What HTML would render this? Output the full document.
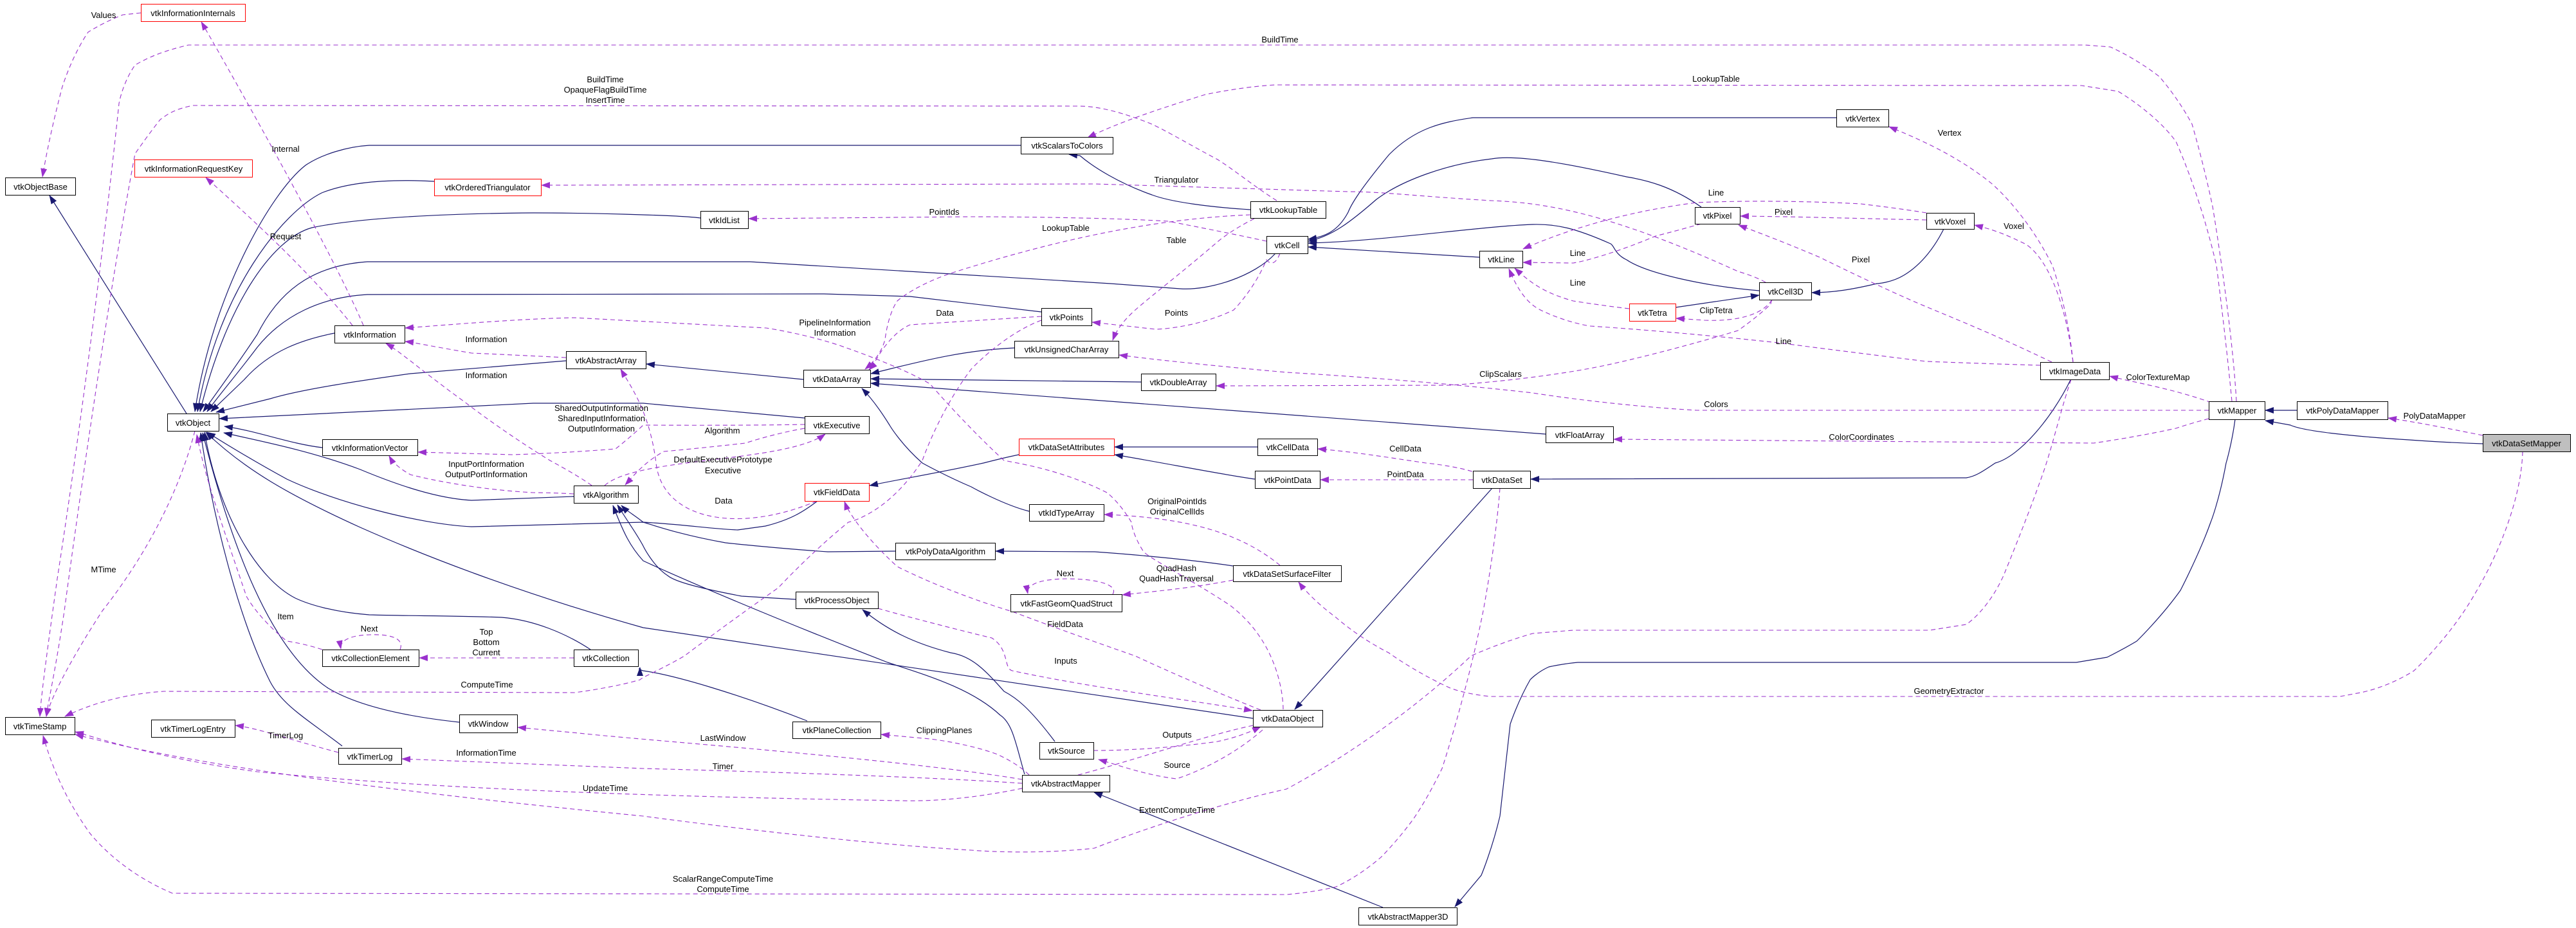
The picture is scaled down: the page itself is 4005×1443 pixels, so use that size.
<!DOCTYPE html>
<html><head><meta charset="utf-8"><style>
html,body{margin:0;padding:0;background:#fff;}
svg{display:block;}
text{font-family:"Liberation Sans",sans-serif;font-size:13px;fill:#000;}
.s{fill:none;stroke:#191970;stroke-width:1.2;}
.d{fill:none;stroke:#9a32cd;stroke-width:1.1;stroke-dasharray:7,5;}
.n{fill:#fff;stroke:#000;stroke-width:1;}
.r{fill:#fff;stroke:#ff0000;stroke-width:1;}
.g{fill:#bfbfbf;stroke:#000;stroke-width:1;}
.l{text-anchor:middle;}
</style></head><body>
<svg width="4005" height="1443" viewBox="0 0 4005 1443" xmlns="http://www.w3.org/2000/svg">
<defs>
<marker id="a" markerWidth="14" markerHeight="10" refX="13" refY="5" orient="auto" markerUnits="userSpaceOnUse"><path d="M0,0 L14,5 L0,10 z" fill="#191970"/></marker>
<marker id="p" markerWidth="14" markerHeight="10" refX="13" refY="5" orient="auto" markerUnits="userSpaceOnUse"><path d="M0,0 L14,5 L0,10 z" fill="#9a32cd"/></marker>
</defs>

<!-- solid inheritance edges -->
<g marker-end="url(#a)">
<path class="s" d="M290,643 L77,304"/>
<path class="s" d="M1587,226 L574,226 C540,228 500,240 475,257 C420,300 330,460 303,640"/>
<path class="s" d="M675,282 C600,278 540,284 500,300 C440,330 340,450 307,640"/>
<path class="s" d="M1089,339 C1050,334 900,331 829,331 C700,332 560,338 485,354 C420,372 350,480 311,640"/>
<path class="s" d="M1983,394 C1950,430 1880,452 1835,449 L1727,441 L1166,407 L571,407 C500,412 440,440 400,520 C360,580 330,620 316,640"/>
<path class="s" d="M1619,485 L1415,461 L1281,457 L571,458 C500,462 440,490 400,540 C370,580 340,615 322,640"/>
<path class="s" d="M520,518 C470,528 420,545 380,590 L328,640"/>
<path class="s" d="M880,561 L638,581 C560,592 470,605 420,620 L336,641"/>
<path class="s" d="M1251,650 L1000,627 L829,627 L341,651"/>
<path class="s" d="M501,696 C450,690 400,670 349,663"/>
<path class="s" d="M892,772 L733,778 C680,775 620,755 560,730 C480,700 400,685 348,673"/>
<path class="s" d="M1271,779 C1250,795 1230,808 1190,818 L1147,824 C1100,822 1070,816 1000,812 L733,819 C650,815 520,780 446,745 C400,720 350,690 322,672"/>
<path class="s" d="M1948,1117 L1000,976 C800,920 650,860 560,820 C450,770 380,730 320,672"/>
<path class="s" d="M918,1010 C880,985 830,964 780,960 C700,957 640,958 574,956 C520,952 480,940 459,930 C400,900 340,800 318,672"/>
<path class="s" d="M714,1123 C640,1115 560,1100 510,1070 C420,1010 360,850 315,673"/>
<path class="s" d="M532,1160 C480,1120 440,1098 420,1060 C370,960 330,800 312,673"/>
<path class="s" d="M1255,1121 C1150,1080 1050,1050 1000,1043 C990,1040 995,1040 995,1038"/>
<path class="s" d="M1640,1153 C1600,1100 1580,1085 1561,1075 C1530,1040 1510,1020 1478,1015 C1420,1000 1380,980 1341,948"/>
<path class="s" d="M2150,1411 L1701,1232"/>
<path class="s" d="M2320,759 L2013,1103"/>
<path class="s" d="M3219,591 C3190,650 3140,710 3102,720 C3080,735 3070,741 3057,743 L2380,745"/>
<path class="s" d="M3475,652 C3470,690 3461,720 3461,720 C3450,780 3437,812 3437,812 C3420,860 3390,918 3390,918 C3360,960 3322,997 3322,997 C3300,1010 3276,1022 3276,1022 L3228,1030 L2453,1030 C2430,1032 2408,1037 2408,1037 C2390,1045 2379,1057 2379,1057 C2360,1090 2348,1126 2348,1126 L2332,1269 C2320,1320 2303,1361 2303,1361 L2262,1410"/>
<path class="s" d="M3571,638 L3522,638"/>
<path class="s" d="M3860,690 C3800,688 3746,684 3746,684 C3650,678 3580,670 3561,661 L3522,654"/>
<path class="s" d="M1944,326 C1880,322 1820,314 1791,303 C1740,285 1700,260 1679,242 L1662,240"/>
<path class="s" d="M2855,183 L2290,183 C2240,190 2200,200 2160,240 C2110,300 2100,320 2096,330 C2080,360 2060,368 2034,372"/>
<path class="s" d="M2645,322 C2600,290 2560,280 2529,275 C2440,255 2360,240 2319,247 C2250,255 2180,280 2140,310 C2100,345 2070,368 2034,375"/>
<path class="s" d="M2735,452 C2650,445 2560,425 2529,404 C2510,395 2510,382 2504,379 C2450,355 2420,348 2383,349 C2300,352 2150,375 2034,378"/>
<path class="s" d="M2300,400 L2034,384"/>
<path class="s" d="M2605,478 L2735,459"/>
<path class="s" d="M3022,356 C3010,380 2990,410 2960,428 C2940,440 2918,441 2918,441 C2880,450 2850,455 2817,455"/>
<path class="s" d="M1249,590 L1005,566"/>
<path class="s" d="M1577,541 C1490,545 1420,565 1354,581"/>
<path class="s" d="M1774,594 L1354,589"/>
<path class="s" d="M2403,675 L1354,596"/>
<path class="s" d="M1600,795 C1560,785 1510,757 1510,757 C1470,740 1434,720 1434,720 C1400,690 1383,661 1383,661 C1370,640 1354,618 1340,604"/>
<path class="s" d="M1584,707 C1560,712 1529,720 1529,720 C1460,735 1400,745 1352,755"/>
<path class="s" d="M1955,695 L1733,695"/>
<path class="s" d="M1951,745 C1900,738 1800,718 1733,707"/>
<path class="s" d="M1392,857 L1287,858 C1200,852 1128,844 1128,844 C1060,832 1020,818 1000,812 C985,800 975,795 966,786"/>
<path class="s" d="M1237,932 L1153,927 C1090,915 1050,905 1038,895 C1015,880 1000,849 1000,849 C990,830 975,810 960,785"/>
<path class="s" d="M1593,1204 C1580,1160 1575,1125 1555,1112 C1510,1070 1440,1050 1380,1030 C1200,960 1060,900 1000,872 C980,850 970,830 953,786"/>
<path class="s" d="M1917,880 C1850,870 1760,862 1702,858 L1548,857"/>
</g>

<!-- dashed usage edges -->
<g marker-end="url(#p)">
<path class="d" d="M219,20 C200,22 191,23 191,23 C160,35 137,50 137,50 C110,90 96,138 96,138 C80,200 72,240 66,275"/>
<path class="d" d="M565,506 C520,400 380,150 313,34"/>
<path class="d" d="M548,506 C480,420 380,330 320,276"/>
<path class="d" d="M3477,624 C3470,500 3440,321 3440,321 C3425,250 3408,193 3408,193 C3385,150 3357,119 3357,119 C3320,90 3281,73 3281,73 L3242,70 L293,70 C250,80 230,90 210,101 C190,130 185,161 185,161 C160,400 120,700 89,900 C75,1000 64,1080 62,1114"/>
<path class="d" d="M1985,312 C1950,290 1920,265 1893,248 C1840,220 1800,195 1778,188 C1730,170 1700,165 1676,165 L300,164 C270,170 260,178 249,186 C230,210 210,239 210,239 C170,450 120,800 100,950 C85,1050 75,1090 72,1114"/>
<path class="d" d="M3470,624 C3460,520 3446,413 3446,413 C3420,300 3383,220 3383,220 C3350,175 3293,142 3293,142 L3236,133 L1982,132 C1930,135 1874,147 1874,147 C1800,170 1740,190 1691,214"/>
<path class="d" d="M2745,439 C2730,430 2702,422 2702,422 C2500,330 2400,315 2319,312 C2200,305 2150,298 2096,298 L1702,286 L842,288"/>
<path class="d" d="M1969,375 C1900,360 1816,344 1816,344 C1700,337 1510,337 1510,337 L1164,340"/>
<path class="d" d="M1944,334 C1800,340 1650,370 1478,425 C1420,445 1395,468 1395,468 C1380,490 1376,528 1376,528 C1370,550 1356,565 1345,574"/>
<path class="d" d="M1950,340 C1920,355 1900,370 1893,376 C1830,430 1790,460 1765,482 C1745,500 1735,515 1730,529"/>
<path class="d" d="M1990,394 C1980,420 1969,404 1969,404 C1950,450 1918,482 1918,482 C1860,510 1800,512 1797,512 L1698,501"/>
<path class="d" d="M1619,492 C1600,493 1415,505 1415,505 C1380,520 1357,569 1357,569 L1351,575"/>
<path class="d" d="M1995,1103 C1995,1087 1990,1000 1912,941 C1850,900 1790,870 1778,858 C1760,830 1759,812 1759,812 C1740,780 1721,766 1721,766 C1650,730 1580,720 1561,716 C1500,660 1446,597 1446,597 C1400,570 1319,542 1319,542 C1260,520 1191,510 1191,510 L893,494 C800,496 700,505 630,510"/>
<path class="d" d="M880,556 C800,552 733,549 733,549 C680,540 640,532 630,531"/>
<path class="d" d="M920,755 C900,740 855,716 855,716 C780,670 721,624 721,624 C660,580 620,545 600,534"/>
<path class="d" d="M1251,660 C1150,662 1000,661 1000,661 C980,680 957,698 957,698 C870,705 797,707 797,707 L650,703"/>
<path class="d" d="M892,768 C860,766 829,766 829,766 C720,760 638,738 638,738 C620,728 610,718 605,709"/>
<path class="d" d="M1251,666 C1200,675 1159,689 1159,689 C1080,698 1032,702 1032,702 C1000,720 985,740 972,754"/>
<path class="d" d="M940,755 C990,710 1220,720 1283,675"/>
<path class="d" d="M1270,779 C1150,830 1030,810 1020,720 C1010,640 980,600 965,574"/>
<path class="d" d="M303,670 C280,760 230,860 159,950 C120,1010 80,1080 72,1114"/>
<path class="d" d="M501,1010 C470,1000 446,997 446,997 C400,960 383,927 383,927 C340,800 319,743 306,676"/>
<path class="d" d="M622,1010 C630,990 600,986 575,987 C540,988 528,998 530,1009"/>
<path class="d" d="M892,1023 L652,1023"/>
<path class="d" d="M1619,498 C1560,520 1510,574 1510,574 C1460,640 1434,716 1434,716 C1380,800 1319,812 1319,812 C1260,860 1210,914 1210,914 C1130,970 1064,1020 1064,1020 C1030,1040 1000,1052 995,1057 C950,1070 893,1077 893,1077 L255,1075 C180,1080 130,1100 101,1114"/>
<path class="d" d="M526,1170 C450,1150 400,1132 366,1128"/>
<path class="d" d="M1589,1218 C1400,1205 1000,1195 1000,1195 L625,1180"/>
<path class="d" d="M1589,1212 C1400,1180 1000,1151 900,1140 L805,1131"/>
<path class="d" d="M1600,1205 C1580,1185 1548,1172 1548,1172 C1500,1155 1446,1149 1446,1149 L1370,1142"/>
<path class="d" d="M1700,1167 C1800,1167 1893,1153 1893,1153 C1930,1145 1950,1135 1960,1130"/>
<path class="d" d="M1963,1135 C1900,1190 1829,1211 1829,1211 C1780,1205 1740,1190 1708,1181"/>
<path class="d" d="M1365,946 C1450,970 1542,992 1542,992 C1570,1010 1560,1040 1574,1043 C1700,1070 1860,1090 1947,1105"/>
<path class="d" d="M1960,1104 C1850,1060 1765,1020 1765,1020 C1650,980 1574,951 1574,951 C1470,920 1395,881 1395,881 C1350,840 1320,800 1313,780"/>
<path class="d" d="M1990,879 C1930,830 1850,805 1717,800"/>
<path class="d" d="M1917,902 C1850,915 1790,920 1745,925"/>
<path class="d" d="M1730,924 C1740,908 1700,900 1660,900 C1620,900 1595,908 1598,923"/>
<path class="d" d="M3922,702 C3920,780 3880,870 3848,923 C3810,990 3753,1043 3753,1043 C3710,1070 3670,1077 3670,1077 L3638,1083 L2319,1083 C2280,1080 2255,1070 2255,1070 C2200,1045 2159,1015 2159,1015 C2110,990 2077,960 2077,960 C2050,940 2030,920 2019,905"/>
<path class="d" d="M3220,590 C3200,650 3190,700 3172,748 C3150,810 3115,895 3115,895 C3090,950 3057,971 3057,971 L3000,980 L2446,980 C2420,982 2383,985 2383,985 C2330,1000 2287,1020 2287,1020 C2150,1150 2000,1227 2000,1227 C1850,1260 1701,1319 1701,1319 C1600,1330 1510,1322 1510,1322 C1300,1310 1000,1269 1000,1269 C600,1230 300,1190 117,1142"/>
<path class="d" d="M1948,1128 C1800,1160 1600,1250 1400,1245 C1100,1240 700,1230 400,1200 C250,1180 160,1150 117,1138"/>
<path class="d" d="M2332,759 C2325,850 2306,950 2306,950 C2280,1080 2242,1195 2242,1195 C2210,1260 2191,1282 2191,1282 C2170,1310 2147,1333 2147,1333 C2110,1365 2077,1379 2077,1379 C2040,1388 2000,1391 2000,1391 L268,1389 C200,1360 160,1320 140,1296 C100,1240 80,1190 67,1144"/>
<path class="d" d="M3434,638 L2638,638 C2500,630 2383,611 2383,611 C2200,590 2000,579 2000,579 C1900,570 1800,560 1740,552"/>
<path class="d" d="M3434,651 C3400,660 3383,666 3383,666 C3320,680 3255,689 3255,689 L2509,683"/>
<path class="d" d="M2755,466 C2753,470 2753,473 2753,473 C2730,495 2702,514 2702,514 C2600,545 2510,565 2510,565 C2400,590 2255,599 2255,599 L1891,600"/>
<path class="d" d="M3438,626 C3380,605 3320,595 3280,585"/>
<path class="d" d="M3860,677 C3800,665 3760,657 3713,650"/>
<path class="d" d="M3223,563 C3215,480 3191,413 3191,413 C3150,330 3096,285 3096,285 C3040,240 2980,215 2937,197"/>
<path class="d" d="M3223,563 C3210,460 3180,400 3150,380 C3110,360 3090,355 3070,350"/>
<path class="d" d="M2995,342 C2900,340 2800,337 2706,336"/>
<path class="d" d="M3190,563 C3100,520 3050,500 2995,477 C2930,450 2829,400 2829,400 C2770,375 2730,360 2703,350"/>
<path class="d" d="M2995,331 C2960,325 2893,317 2893,317 C2800,312 2700,312 2638,315 C2520,330 2430,360 2368,387"/>
<path class="d" d="M2645,348 C2610,358 2574,367 2574,367 C2520,390 2470,405 2446,409 L2368,408"/>
<path class="d" d="M2533,480 C2490,475 2446,468 2446,468 C2400,455 2380,440 2355,417"/>
<path class="d" d="M3172,568 C3100,566 2995,562 2995,562 C2880,548 2765,533 2765,533 C2600,515 2472,507 2472,507 C2430,500 2395,482 2395,482 C2370,470 2355,440 2346,418"/>
<path class="d" d="M2755,466 C2740,490 2700,500 2650,498 L2606,495"/>
<path class="d" d="M2300,737 C2270,725 2217,720 2217,720 C2150,710 2100,702 2049,698"/>
<path class="d" d="M2290,746 L2053,746"/>
</g>

<!-- edge labels -->
<g class="l">
<text x="161" y="28">Values</text>
<text x="1990" y="66">BuildTime</text>
<text x="941" y="128">BuildTime</text>
<text x="941" y="144">OpaqueFlagBuildTime</text>
<text x="941" y="160">InsertTime</text>
<text x="2668" y="127">LookupTable</text>
<text x="3031" y="211">Vertex</text>
<text x="444" y="236">Internal</text>
<text x="1829" y="284">Triangulator</text>
<text x="2668" y="304">Line</text>
<text x="1468" y="334">PointIds</text>
<text x="2773" y="334">Pixel</text>
<text x="3131" y="356">Voxel</text>
<text x="1657" y="359">LookupTable</text>
<text x="444" y="372">Request</text>
<text x="1829" y="378">Table</text>
<text x="2453" y="398">Line</text>
<text x="2893" y="408">Pixel</text>
<text x="2453" y="444">Line</text>
<text x="2668" y="487">ClipTetra</text>
<text x="1469" y="491">Data</text>
<text x="1829" y="491">Points</text>
<text x="1298" y="506">PipelineInformation</text>
<text x="1298" y="522">Information</text>
<text x="756" y="532">Information</text>
<text x="2773" y="535">Line</text>
<text x="2333" y="586">ClipScalars</text>
<text x="756" y="588">Information</text>
<text x="3355" y="591">ColorTextureMap</text>
<text x="2668" y="633">Colors</text>
<text x="935" y="639">SharedOutputInformation</text>
<text x="935" y="655">SharedInputInformation</text>
<text x="935" y="671">OutputInformation</text>
<text x="3785" y="651">PolyDataMapper</text>
<text x="1123" y="674">Algorithm</text>
<text x="2894" y="684">ColorCoordinates</text>
<text x="2185" y="702">CellData</text>
<text x="1124" y="719">DefaultExecutivePrototype</text>
<text x="756" y="726">InputPortInformation</text>
<text x="1124" y="736">Executive</text>
<text x="756" y="742">OutputPortInformation</text>
<text x="2185" y="742">PointData</text>
<text x="1125" y="783">Data</text>
<text x="1830" y="784">OriginalPointIds</text>
<text x="1830" y="800">OriginalCellIds</text>
<text x="1829" y="888">QuadHash</text>
<text x="1829" y="904">QuadHashTraversal</text>
<text x="161" y="890">MTime</text>
<text x="1656" y="896">Next</text>
<text x="444" y="963">Item</text>
<text x="1656" y="975">FieldData</text>
<text x="574" y="982">Next</text>
<text x="756" y="987">Top</text>
<text x="756" y="1003">Bottom</text>
<text x="756" y="1019">Current</text>
<text x="1657" y="1032">Inputs</text>
<text x="757" y="1069">ComputeTime</text>
<text x="3030" y="1079">GeometryExtractor</text>
<text x="1468" y="1140">ClippingPlanes</text>
<text x="444" y="1148">TimerLog</text>
<text x="1830" y="1147">Outputs</text>
<text x="1124" y="1152">LastWindow</text>
<text x="756" y="1175">InformationTime</text>
<text x="1830" y="1194">Source</text>
<text x="1124" y="1196">Timer</text>
<text x="941" y="1230">UpdateTime</text>
<text x="1830" y="1264">ExtentComputeTime</text>
<text x="1124" y="1371">ScalarRangeComputeTime</text>
<text x="1124" y="1387">ComputeTime</text>
</g>

<!-- nodes -->
<g class="l">
<rect class="r" x="219.5" y="6.5" width="162" height="27"/><text x="300" y="25">vtkInformationInternals</text>
<rect class="n" x="8.5" y="276.5" width="109" height="27"/><text x="63" y="295">vtkObjectBase</text>
<rect class="r" x="209.5" y="248.5" width="183" height="27"/><text x="301" y="267">vtkInformationRequestKey</text>
<rect class="r" x="675.5" y="278.5" width="166" height="26"/><text x="758" y="296">vtkOrderedTriangulator</text>
<rect class="n" x="520.5" y="506.5" width="109" height="27"/><text x="575" y="525">vtkInformation</text>
<rect class="n" x="880.5" y="546.5" width="124" height="27"/><text x="942" y="565">vtkAbstractArray</text>
<rect class="n" x="260.5" y="643.5" width="80" height="27"/><text x="300" y="662">vtkObject</text>
<rect class="n" x="501.5" y="683.5" width="148" height="25"/><text x="575" y="701">vtkInformationVector</text>
<rect class="n" x="1587.5" y="213.5" width="143" height="26"/><text x="1659" y="231">vtkScalarsToColors</text>
<rect class="n" x="1089.5" y="328.5" width="74" height="27"/><text x="1126" y="347">vtkIdList</text>
<rect class="n" x="1944.5" y="313.5" width="117" height="26"/><text x="2003" y="331">vtkLookupTable</text>
<rect class="n" x="1969.5" y="367.5" width="64" height="27"/><text x="2001" y="386">vtkCell</text>
<rect class="n" x="1619.5" y="479.5" width="78" height="27"/><text x="1658" y="498">vtkPoints</text>
<rect class="n" x="1577.5" y="530.5" width="162" height="26"/><text x="1658" y="548">vtkUnsignedCharArray</text>
<rect class="n" x="1249.5" y="575.5" width="104" height="27"/><text x="1301" y="594">vtkDataArray</text>
<rect class="n" x="1774.5" y="581.5" width="116" height="26"/><text x="1832" y="599">vtkDoubleArray</text>
<rect class="n" x="1251.5" y="647.5" width="100" height="27"/><text x="1301" y="666">vtkExecutive</text>
<rect class="r" x="1584.5" y="682.5" width="148" height="26"/><text x="1658" y="700">vtkDataSetAttributes</text>
<rect class="n" x="1955.5" y="682.5" width="93" height="26"/><text x="2002" y="700">vtkCellData</text>
<rect class="n" x="2855.5" y="170.5" width="81" height="27"/><text x="2896" y="189">vtkVertex</text>
<rect class="n" x="2635.5" y="322.5" width="70" height="26"/><text x="2670" y="340">vtkPixel</text>
<rect class="n" x="2300.5" y="390.5" width="67" height="26"/><text x="2334" y="408">vtkLine</text>
<rect class="n" x="2735.5" y="439.5" width="81" height="27"/><text x="2776" y="458">vtkCell3D</text>
<rect class="r" x="2533.5" y="472.5" width="72" height="27"/><text x="2569" y="491">vtkTetra</text>
<rect class="n" x="2403.5" y="663.5" width="105" height="25"/><text x="2456" y="681">vtkFloatArray</text>
<rect class="n" x="2995.5" y="331.5" width="74" height="25"/><text x="3032" y="349">vtkVoxel</text>
<rect class="n" x="3172.5" y="563.5" width="107" height="27"/><text x="3226" y="582">vtkImageData</text>
<rect class="n" x="3434.5" y="624.5" width="87" height="28"/><text x="3478" y="643">vtkMapper</text>
<rect class="n" x="3571.5" y="624.5" width="141" height="28"/><text x="3642" y="643">vtkPolyDataMapper</text>
<rect class="g" x="3860.5" y="675.5" width="136" height="27"/><text x="3928" y="694">vtkDataSetMapper</text>
<rect class="n" x="892.5" y="755.5" width="100" height="27"/><text x="942" y="774">vtkAlgorithm</text>
<rect class="n" x="501.5" y="1010.5" width="150" height="26"/><text x="576" y="1028">vtkCollectionElement</text>
<rect class="n" x="892.5" y="1010.5" width="100" height="26"/><text x="942" y="1028">vtkCollection</text>
<rect class="n" x="8.5" y="1115.5" width="108" height="27"/><text x="62" y="1134">vtkTimeStamp</text>
<rect class="n" x="235.5" y="1119.5" width="130" height="27"/><text x="300" y="1138">vtkTimerLogEntry</text>
<rect class="n" x="714.5" y="1111.5" width="90" height="28"/><text x="759" y="1130">vtkWindow</text>
<rect class="n" x="526.5" y="1163.5" width="98" height="25"/><text x="575" y="1181">vtkTimerLog</text>
<rect class="r" x="1251.5" y="751.5" width="100" height="28"/><text x="1301" y="770">vtkFieldData</text>
<rect class="n" x="1600.5" y="784.5" width="116" height="26"/><text x="1658" y="802">vtkIdTypeArray</text>
<rect class="n" x="1951.5" y="732.5" width="101" height="27"/><text x="2002" y="751">vtkPointData</text>
<rect class="n" x="1392.5" y="844.5" width="155" height="26"/><text x="1470" y="862">vtkPolyDataAlgorithm</text>
<rect class="n" x="1917.5" y="879.5" width="168" height="25"/><text x="2001" y="897">vtkDataSetSurfaceFilter</text>
<rect class="n" x="1571.5" y="924.5" width="173" height="27"/><text x="1658" y="943">vtkFastGeomQuadStruct</text>
<rect class="n" x="1237.5" y="920.5" width="128" height="26"/><text x="1301" y="938">vtkProcessObject</text>
<rect class="n" x="1948.5" y="1104.5" width="108" height="26"/><text x="2002" y="1122">vtkDataObject</text>
<rect class="n" x="1232.5" y="1122.5" width="137" height="26"/><text x="1301" y="1140">vtkPlaneCollection</text>
<rect class="n" x="1616.5" y="1154.5" width="84" height="26"/><text x="1658" y="1172">vtkSource</text>
<rect class="n" x="1589.5" y="1205.5" width="136" height="26"/><text x="1657" y="1223">vtkAbstractMapper</text>
<rect class="n" x="2290.5" y="732.5" width="89" height="27"/><text x="2335" y="751">vtkDataSet</text>
<rect class="n" x="2112.5" y="1411.5" width="153" height="27"/><text x="2189" y="1430">vtkAbstractMapper3D</text>
</g>
</svg>
</body></html>
